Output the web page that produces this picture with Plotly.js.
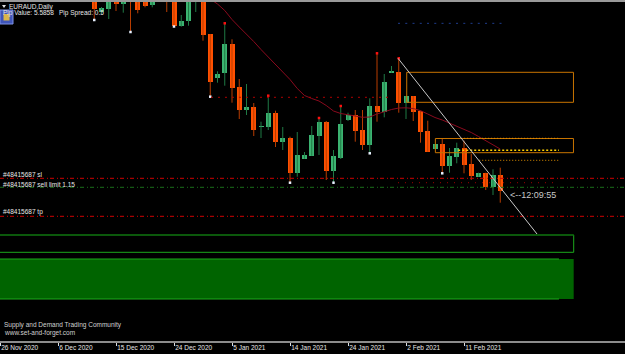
<!DOCTYPE html>
<html><head><meta charset="utf-8">
<script src="https://cdn.plot.ly/plotly-3.0.1.min.js"></script>
<style>
html,body{margin:0;padding:0;background:#000;width:625px;height:354px;overflow:hidden}
#topbar{position:absolute;left:0;top:0;width:625px;height:2px;background:#9a9a9a}
#chart{position:absolute;left:0;top:2px;width:625px;height:352px}
</style></head><body>
<div id="topbar"></div><div id="chart"></div>
<script>
// ---- data (bar index 0 = 26 Nov 2020, one bar per trading day incl. Sunday bars) ----
const tickIdx = [0, 8, 16, 24, 32, 40, 48, 56, 64];
const tickLabels = ['26 Nov 2020','6 Dec 2020','15 Dec 2020','24 Dec 2020','5 Jan 2021','14 Jan 2021','24 Jan 2021','2 Feb 2021','11 Feb 2021'];

const barIdx = [13,14,15,16,17,18,19,20,21,23,24,25,26,27,28,29,30,31,32,33,34,35,36,37,38,39,40,41,42,43,44,45,46,47,48,49,50,51,52,53,54,55,56,57,58,59,60,61,62,63,64,65,66,67,68,69];
const openP = [1.6280,1.62131,1.6223,1.6259,1.6238,1.6310,1.6262,1.6256,1.62359,1.6325,1.6268,1.61729,1.61879,1.6268,1.6256,1.6148,1.6016,1.60301,1.6118,1.59881,1.5920,1.5929,1.5869,1.5869,1.5911,1.5824,1.5836,1.57319,1.57739,1.57829,1.5842,1.5884,1.5737,1.5776,1.5890,1.5905,1.5860,1.5815,1.5932,1.59149,1.60319,1.60349,1.59419,1.5962,1.59179,1.58579,1.58039,1.5818,1.5752,1.57799,1.5806,1.57571,1.57199,1.57319,1.56881,1.5725];
const highP = [1.6298,1.6229,1.6274,1.6268,1.6274,1.6325,1.6271,1.6265,1.6268,1.6340,1.6280,1.6205,1.6268,1.6310,1.6265,1.6148,1.60361,1.61801,1.61321,1.6013,1.5998,1.5941,1.58849,1.59629,1.59179,1.5869,1.58399,1.5854,1.5794,1.5872,1.5896,1.5887,1.5800,1.5932,1.59119,1.5920,1.5920,1.59551,1.60901,1.6028,1.6052,1.60751,1.5962,1.5962,1.59179,1.58879,1.5818,1.58339,1.5806,1.58219,1.58279,1.5788,1.57319,1.57319,1.57421,1.57469];
const lowP = [1.6190,1.6208,1.6193,1.6217,1.62119,1.6154,1.62101,1.62281,1.62281,1.6214,1.61705,1.61699,1.61729,1.6214,1.61279,1.59599,1.60019,1.59929,1.59419,1.5893,1.5905,1.5842,1.5836,1.5860,1.5809,1.5800,1.57019,1.57199,1.57739,1.57829,1.5785,1.5710,1.57019,1.5773,1.5887,1.58249,1.5800,1.57901,1.58849,1.58981,1.60319,1.59119,1.5893,1.5887,1.58219,1.57949,1.58039,1.57301,1.57319,1.57601,1.57301,1.5710,1.57199,1.5680,1.5665,1.56419];
const closeP = [1.6223,1.62251,1.6262,1.6238,1.6265,1.6268,1.6220,1.62329,1.6259,1.6274,1.61729,1.6187,1.6259,1.6295,1.6145,1.60049,1.6028,1.6118,1.59851,1.5920,1.5929,1.5860,1.5872,1.5911,1.5824,1.5836,1.57319,1.5785,1.5785,1.5845,1.5884,1.5737,1.57829,1.5878,1.5905,1.58579,1.5815,1.5932,1.59149,1.60049,1.60379,1.59419,1.5962,1.59149,1.58549,1.57949,1.5818,1.5752,1.5782,1.5806,1.5755,1.5722,1.57319,1.56899,1.5725,1.56779];

const maIdx = [28,29,30,31,32,33,34,35,36,37,38,39,40,41,42,43,44,45,46,47,48,49,50,51,52,53,54,55,56,57,58,59,60,61,62,63,64,65,66,67,68,69];
const maVal = [1.6268,1.6253,1.6238,1.62185,1.61915,1.6169,1.6148,1.61255,1.61015,1.6079,1.60595,1.6037,1.60115,1.59845,1.59635,1.59545,1.5947,1.59335,1.5917,1.59095,1.59065,1.5902,1.58981,1.5899,1.5908,1.59155,1.59215,1.5926,1.59266,1.59245,1.59179,1.5908,1.58975,1.5890,1.5881,1.58705,1.58615,1.58525,1.58405,1.58285,1.58165,1.5803];

const fractalLowIdx = [13,18,24,29,40,46,51,61];
const fractalHighIdx = [31,37,44,47,52,55];

const slLevel = 1.57151, sellLimitLevel = 1.56881, tpLevel = 1.56011;
const oldSupportLevel = 1.59581, supportDotsLevel = 1.57019, topDotsLevel = 1.6180;
const supplyZone1 = [1.59431, 1.60331], supplyZone2 = [1.57919, 1.58345];
const level50 = 1.58351, level61 = 1.57991, level78 = 1.57691;
const demandZone1 = [1.54931, 1.5545], demandZone2 = [1.5353, 1.5473];
const trendIdx = [54.9, 74.07], trendVal = [1.60751, 1.5548];

// ---- build traces ----
const bull = {x:[],base:[],y:[]}, bear = {x:[],base:[],y:[]};
const wickBull = {x:[],y:[]}, wickBear = {x:[],y:[]};
const minBody = 0.0003;
barIdx.forEach((b,k)=>{
  const o=openP[k], c=closeP[k];
  const up = c >= o;
  const t = up ? bull : bear, w = up ? wickBull : wickBear;
  t.x.push(b); t.base.push(Math.min(o,c)); t.y.push(Math.max(Math.abs(c-o), minBody));
  w.x.push(b,b,null); w.y.push(lowP[k], highP[k], null);
});
const lookup = (arr, ids) => ids.map(i => arr[barIdx.indexOf(i)]);

const BW = 0.69;
const traces = [
  {type:'scatter',mode:'lines',x:wickBull.x,y:wickBull.y,line:{color:'#1f7a45',width:1},hoverinfo:'skip'},
  {type:'scatter',mode:'lines',x:wickBear.x,y:wickBear.y,line:{color:'#b83c00',width:1},hoverinfo:'skip'},
  {type:'bar',x:bull.x,base:bull.base,y:bull.y,width:BW,marker:{color:'#3cb371',line:{width:0}}},
  {type:'bar',x:bear.x,base:bear.base,y:bear.y,width:BW,marker:{color:'#ff5000',line:{width:0}}},
  {type:'scatter',mode:'lines',x:maIdx,y:maVal,line:{color:'#8b0a1e',width:1}},
  {type:'scatter',mode:'markers',x:fractalLowIdx,y:lookup(lowP,fractalLowIdx),marker:{symbol:'square',size:2.5,color:'#e8f0ff'},cliponaxis:true},
  {type:'scatter',mode:'markers',x:fractalHighIdx,y:lookup(highP,fractalHighIdx),marker:{symbol:'square',size:2.5,color:'#ff1010'},cliponaxis:true}
];

// ---- geometry helpers (plot area: x 0..625, y 2..341 in page px) ----
const px = x => x/625;
const py = y => (341 - y)/339;
const X0 = 0, X1 = 625/7.25;

const hline = (y, x0, x1, color, dash, width) => ({type:'line',xref:'x',yref:'y',x0:x0,x1:x1,y0:y,y1:y,line:{color:color,dash:dash,width:width||1}});
const dashDot = '4px,3px,1px,2px';

const shapes = [
  // demand zones
  {type:'rect',xref:'x',yref:'y',x0:-1,x1:79.13,y0:demandZone2[0],y1:demandZone2[1],fillcolor:'#006400',line:{width:0},layer:'below'},
  hline(demandZone2[1], -1, 77.1, '#1ca81c', 'solid', 1),
  hline(demandZone2[0], -1, 77.1, '#1ca81c', 'solid', 1),
  {type:'rect',xref:'x',yref:'y',x0:-1,x1:79.13,y0:demandZone1[0],y1:demandZone1[1],fillcolor:'rgba(0,0,0,0)',line:{color:'#1ca81c',width:1}},
  hline(demandZone1[1], -1, 79.13, '#0b5a0b', 'solid', 1.5),
  // supply zones
  {type:'rect',xref:'x',yref:'y',x0:56.1,x1:79.1,y0:supplyZone1[0],y1:supplyZone1[1],line:{color:'#c87400',width:1}},
  {type:'rect',xref:'x',yref:'y',x0:60.05,x1:79.1,y0:supplyZone2[0],y1:supplyZone2[1],line:{color:'#c87400',width:1}},
  hline(level50, 63.6, 77.1, '#e09000', '1px,2px', 1),
  hline(level61, 63.2, 77.1, '#ffd200', '2px,2px', 1.5),
  hline(level78, 66.1, 77.1, '#e09000', '1px,2px', 1),
  // other levels
  hline(oldSupportLevel, 29.1, 54.2, '#b00000', '2px,5px', 1),
  hline(supportDotsLevel, 54.9, 77, '#a00000', '1px,6px', 1),
  hline(topDotsLevel, 54.9, 69.2, '#1e3c8c', '2px,5.25px', 1),
  hline(slLevel, X0, X1, '#d00000', dashDot, 1),
  hline(sellLimitLevel, X0, X1, '#1a6e1a', dashDot, 1),
  hline(tpLevel, X0, X1, '#d00000', dashDot, 1),
  // trend line
  {type:'line',xref:'x',yref:'y',x0:trendIdx[0],x1:trendIdx[1],y0:trendVal[0],y1:trendVal[1],line:{color:'#c8c8c8',width:1}},
  // icon
  {type:'rect',xref:'paper',yref:'paper',x0:px(0),x1:px(13),y0:py(24),y1:py(10),fillcolor:'#3f55b8',line:{color:'#7f93e6',width:1}},
  {type:'rect',xref:'paper',yref:'paper',x0:px(3.5),x1:px(9.5),y0:py(20.5),y1:py(14),fillcolor:'#d9b64a',line:{width:0}},
  // title triangle
  {type:'path',xref:'paper',yref:'paper',path:`M ${px(2)} ${py(5)} L ${px(6)} ${py(5)} L ${px(4)} ${py(8)} Z`,fillcolor:'#e0e0e0',line:{width:0}}
];

const F = 'Liberation Sans, Arial, sans-serif';
const ann = (x, y, text, size, color, fam) => ({xref:'paper',yref:'paper',x:px(x),y:py(y),text:text,showarrow:false,xanchor:'left',yanchor:'middle',font:{family:fam||F,size:size,color:color},borderpad:0});
const annotations = [
  ann(8, 7.3, 'EURAUD,Daily', 6.5, '#e6e6e6'),
  ann(2, 13.3, 'Pip Value: 5.5858', 6.5, '#e6e6e6'),
  ann(58, 13.3, 'Pip Spread: 0.5', 6.5, '#e6e6e6'),
  ann(2, 174.7, '#48415687 sl', 6.5, '#e6e6e6'),
  ann(2, 184.3, '#48415687 sell limit 1.15', 6.5, '#e6e6e6'),
  ann(2, 212.2, '#48415687 tp', 6.5, '#e6e6e6'),
  ann(509, 195, '<--12:09:55', 9, '#c8c8c8'),
  ann(3, 325.3, 'Supply and Demand Trading Community', 6.5, '#d0d0d0'),
  ann(3, 332.7, 'www.set-and-forget.com', 6.5, '#d0d0d0')
];

const layout = {
  width:625, height:352,
  margin:{l:0,r:0,t:0,b:13,pad:0},
  paper_bgcolor:'#000', plot_bgcolor:'#000',
  showlegend:false, barmode:'overlay', bargap:0,
  xaxis:{range:[X0,X1], tickmode:'array', tickvals:tickIdx, ticktext:tickLabels, ticks:'outside', ticklen:3, tickcolor:'#dddddd', tickwidth:1,
         showline:true, linecolor:'#8c8c8c', linewidth:1.5, showgrid:false, zeroline:false,
         tickfont:{family:F, size:6.5, color:'#e6e6e6'}, ticklabelposition:'outside right', fixedrange:true},
  yaxis:{range:[1.5227,1.6244], showticklabels:false, showgrid:false, zeroline:false, ticks:'', fixedrange:true},
  shapes:shapes, annotations:annotations
};
Plotly.newPlot('chart', traces, layout, {displayModeBar:false, staticPlot:true});
</script>
</body></html>
